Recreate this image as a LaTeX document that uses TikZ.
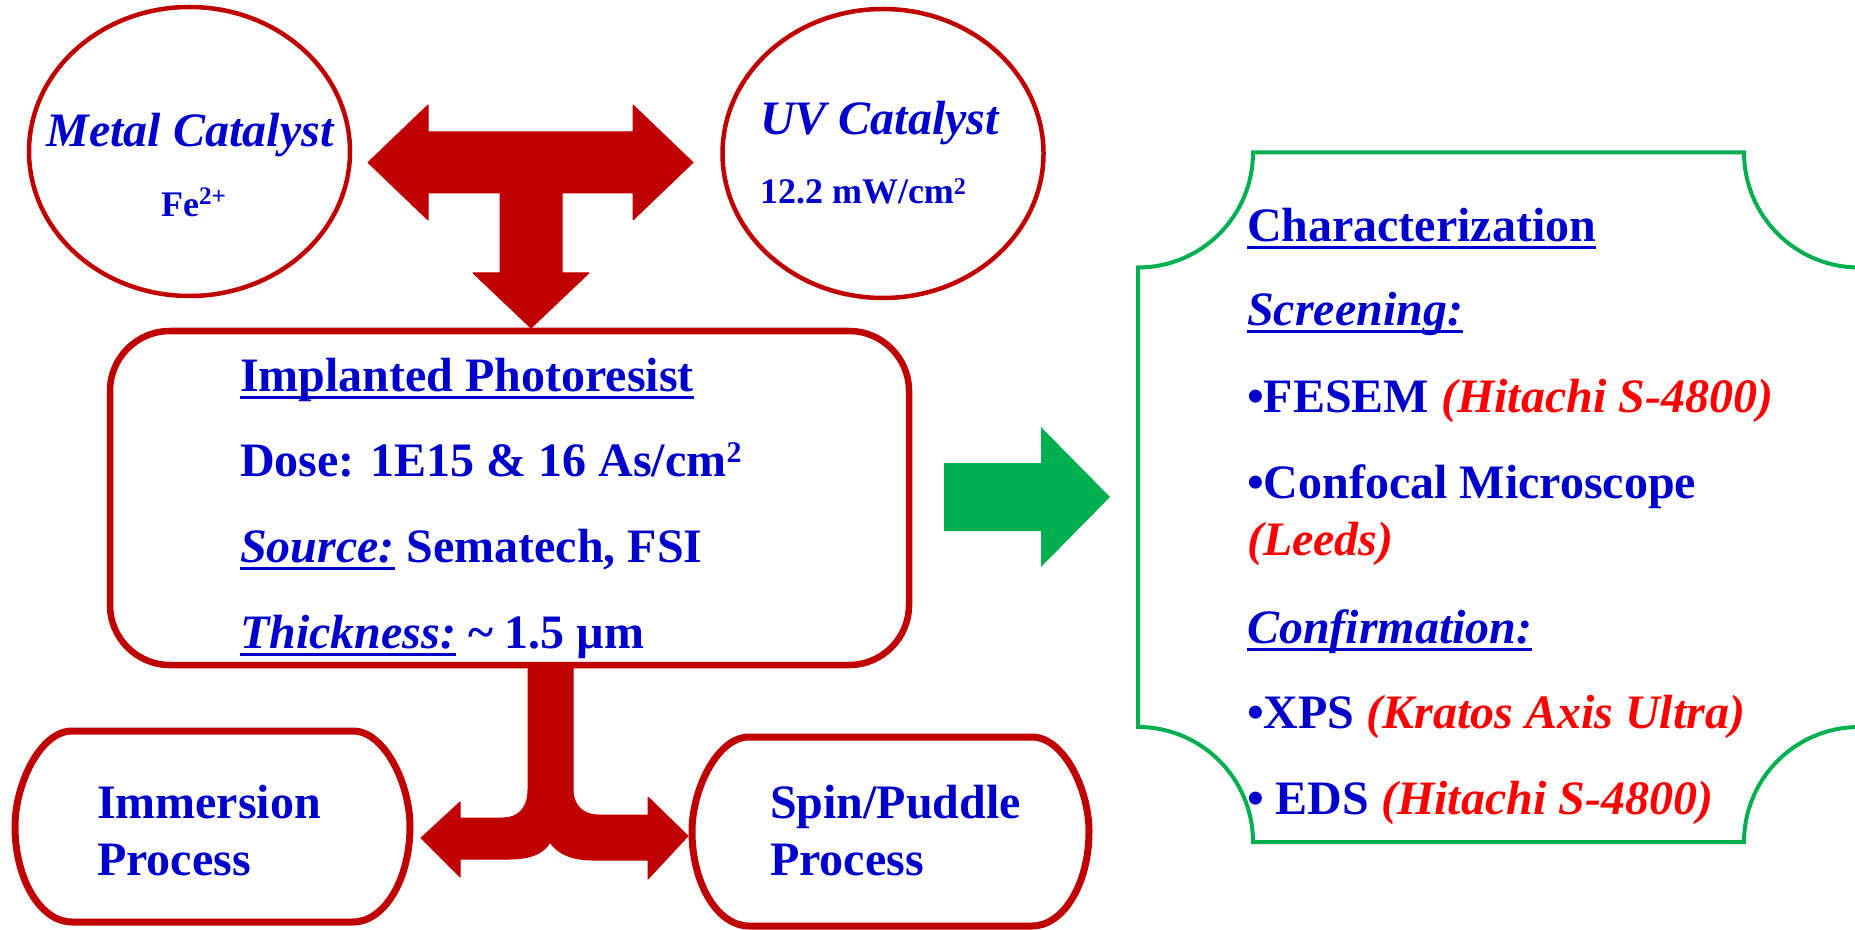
\documentclass[tikz,border=0pt]{standalone}
\usepackage{fontspec}
\setmainfont{Liberation Serif}
\usetikzlibrary{shapes.geometric}
\definecolor{tblue}{RGB}{0,0,204}
\definecolor{tred}{RGB}{255,0,0}
\definecolor{dred}{RGB}{192,0,0}
\definecolor{tgreen}{RGB}{0,176,80}
\newcommand\myul[1]{\setbox0\hbox{#1}\rlap{\rule[-0.16em]{\wd0}{0.065em}}\box0\relax}
\newcommand\mysq{\raisebox{0.62ex}{\fontsize{15}{15}\selectfont 2}}
\tikzset{
  lbl/.style={inner sep=0pt, outer sep=0pt, text=tblue,
    font=\fontsize{24}{28.5}\selectfont\bfseries},
  lblsm/.style={lbl, font=\fontsize{18}{22}\selectfont\bfseries},
  catell/.style={ellipse, draw=dred, line width=2.25pt, inner sep=0pt,
    minimum width=160.5pt, minimum height=144.5pt},
  ipbox/.style={rectangle, draw=dred, line width=3.25pt, rounded corners=30pt,
    inner sep=0pt, minimum width=399.5pt, minimum height=167pt},
  procbox/.style={draw=dred, line width=3.5pt},
  plaque/.style={draw=tgreen, line width=2pt, line join=miter},
  redarrow/.style={fill=dred, draw=dred, line width=0.5pt, line join=round},
  grarrow/.style={fill=tgreen}
}
\begin{document}
\begin{tikzpicture}[x=0.5pt,y=-0.5pt]
\useasboundingbox (0,0) rectangle (1855,930);

% ---- block arrows (drawn first) ----
\fill[redarrow] (428,132) -- (633,132) -- (633,105) -- (693,162.5) -- (633,220)
  -- (633,193) -- (562,193) -- (562,273) -- (589,273) -- (531,328) -- (473,273)
  -- (500,273) -- (500,193) -- (428,193) -- (428,220) -- (368,162.5) -- (428,105) -- cycle;

\fill[redarrow] (528,667) -- (528,790) .. controls (528,808) and (518,818) .. (503,818)
  -- (460,818) -- (460,802) -- (421,838) -- (460,877) -- (460,859) -- (510,859)
  .. controls (532,859) and (545,852) .. (550,842)
  .. controls (556,852) and (570,860) .. (592,860)
  -- (648,860) -- (648,879) -- (688,836) -- (648,797) -- (648,815) -- (598,815)
  .. controls (583,815) and (573,805) .. (573,790) -- (573,667) -- cycle;

\fill[grarrow] (944,463) -- (1041,463) -- (1041,427) -- (1110,497) -- (1041,567)
  -- (1041,531) -- (944,531) -- cycle;

% ---- shapes ----
\node[catell] (metal) at (189.5,151.5) {};
\node[catell] (uv) at (883,153.5) {};
\node[ipbox] (ip) at (509.5,498) {};

% Immersion box (elliptical corners)
\draw[procbox] (72,731) -- (353,731)
  .. controls (384.5,731) and (410,783.8) .. (410,826.5)
  .. controls (410,879.2) and (384.5,922) .. (353,922)
  -- (72,922)
  .. controls (40.5,922) and (15,879.2) .. (15,826.5)
  .. controls (15,783.8) and (40.5,731) .. (72,731) -- cycle;
% Spin/Puddle box
\draw[procbox] (749,737) -- (1032,737)
  .. controls (1063.5,737) and (1089,789) .. (1089,831.5)
  .. controls (1089,883.5) and (1063.5,926) .. (1032,926)
  -- (749,926)
  .. controls (717.5,926) and (692,883.5) .. (692,831.5)
  .. controls (692,789) and (717.5,737) .. (749,737) -- cycle;

% Characterization plaque (concave corners)
\draw[plaque] (1253,152.5) -- (1744,152.5)
  .. controls (1744,216) and (1795.5,267.5) .. (1859,267.5)
  -- (1859,727)
  .. controls (1795.5,727) and (1744,778.5) .. (1744,842)
  -- (1253,842)
  .. controls (1253,778.5) and (1201.5,727) .. (1138,727)
  -- (1138,267.5)
  .. controls (1201.5,267.5) and (1253,216) .. (1253,152.5) -- cycle;

% ---- texts ----
\node[lbl, anchor=base] (mc1) at (190,147) {\itshape Metal Catalyst};
\node[lblsm, anchor=base] (mc2) at (194,217) {Fe\textsuperscript{2+}};
\node[lbl, anchor=base west] (uv1) at (760,135) {\itshape UV Catalyst};
\node[lblsm, anchor=base west] (uv2) at (760,204) {12.2 mW/cm\raisebox{0.6ex}{\fontsize{12}{12}\selectfont 2}};

\node[lbl, anchor=base west] (ip1) at (240,391) {\myul{Implanted Photoresist}};
\node[lbl, anchor=base west] (ip2) at (240,476) {Dose: 1E15 \& 16 As/cm\mysq};
\node[lbl, anchor=base west] (ip3) at (240,562) {\myul{\itshape Source:} Sematech, FSI};
\node[lbl, anchor=base west] (ip4) at (240,648) {\myul{\itshape Thickness:} \textasciitilde{} 1.5 µm};

\node[lbl, anchor=base west] (im1) at (97,818) {Immersion};
\node[lbl, anchor=base west] (im2) at (97,875) {Process};
\node[lbl, anchor=base west] (sp1) at (770,818) {Spin/Puddle};
\node[lbl, anchor=base west] (sp2) at (770,875) {Process};

\node[lbl, anchor=base west] (c1) at (1247,241.6) {\myul{Characterization}};
\node[lbl, anchor=base west] (c2) at (1247,325.3) {\myul{\itshape Screening:}};
\node[lbl, anchor=base west] (c3) at (1247,412.3) {•FESEM {\color{tred}\itshape (Hitachi S-4800)}};
\node[lbl, anchor=base west] (c4) at (1247,498.4) {•Confocal Microscope};
\node[lbl, anchor=base west] (c5) at (1247,555.6) {{\color{tred}\itshape (Leeds)}};
\node[lbl, anchor=base west] (c6) at (1247,643) {\myul{\itshape Confirmation:}};
\node[lbl, anchor=base west] (c7) at (1247,728.6) {•XPS {\color{tred}\itshape (Kratos Axis Ultra)}};
\node[lbl, anchor=base west] (c8) at (1247,814.6) {• EDS {\color{tred}\itshape (Hitachi S-4800)}};
\end{tikzpicture}
\end{document}
